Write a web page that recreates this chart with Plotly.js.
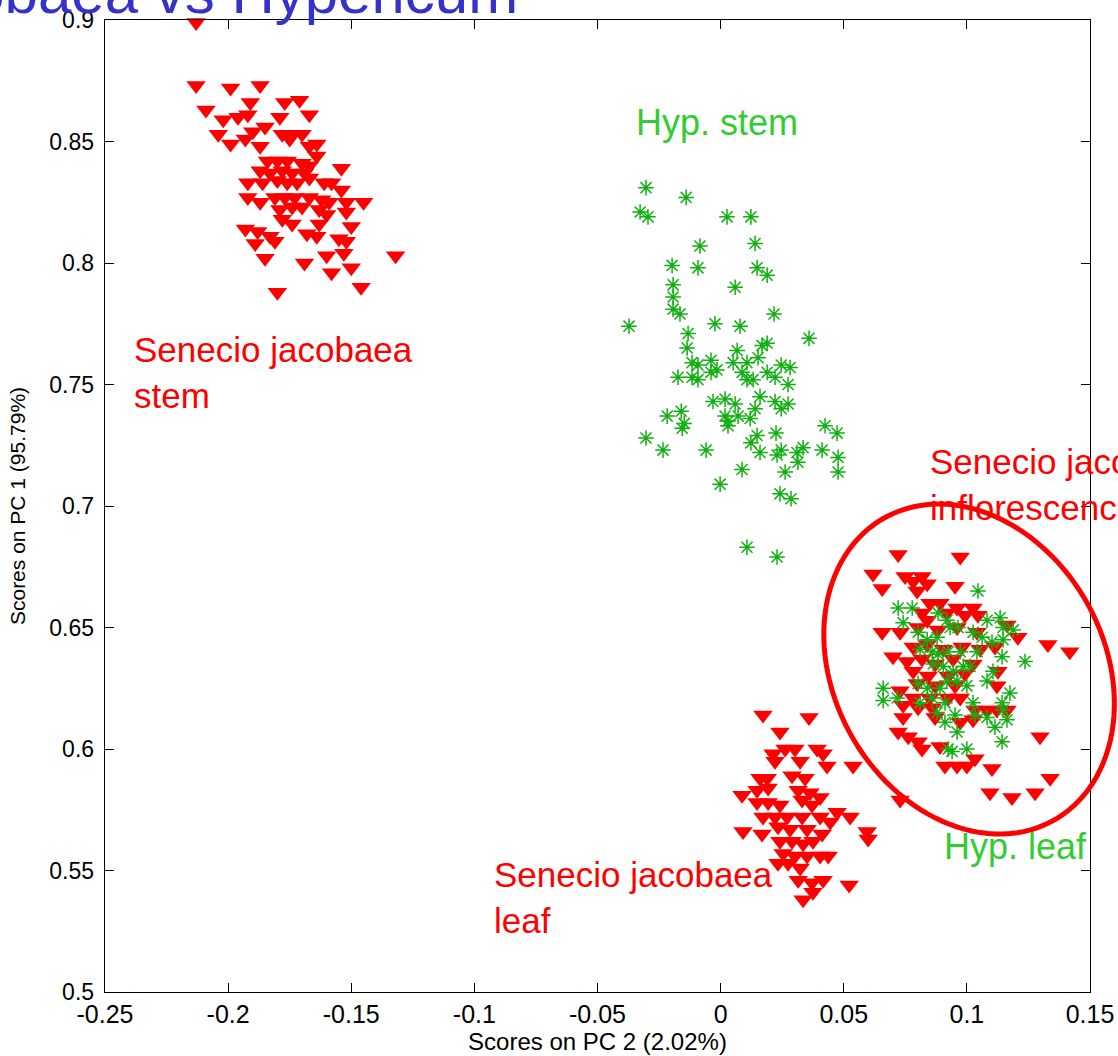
<!DOCTYPE html>
<html><head><meta charset="utf-8">
<script src="https://cdn.plot.ly/plotly-3.0.1.min.js"></script>
<style>html,body{margin:0;padding:0;background:#fff}#chart{width:1118px;height:1056px}</style>
</head><body><div id="chart"></div>
<script>
const xTickVals = [-0.25,-0.2,-0.15,-0.1,-0.05,0,0.05,0.1,0.15];
const xTickText = ["-0.25","-0.2","-0.15","-0.1","-0.05","0","0.05","0.1","0.15"];
const yTickVals = [0.5,0.55,0.6,0.65,0.7,0.75,0.8,0.85,0.9];
const yTickText = ["0.5","0.55","0.6","0.65","0.7","0.75","0.8","0.85","0.9"];

// Senecio jacobaea stem
const stemX = [-0.213,-0.213,-0.199,-0.187,-0.209,-0.191,-0.177,-0.171,-0.167,-0.179,-0.202,-0.196,-0.192,-0.204,-0.199,-0.193,-0.190,-0.185,-0.178,-0.174,-0.170,-0.175,-0.187,-0.164,-0.167,-0.164,-0.184,-0.180,-0.176,-0.170,-0.167,-0.187,-0.183,-0.178,-0.174,-0.169,-0.154,-0.192,-0.186,-0.180,-0.176,-0.172,-0.167,-0.161,-0.158,-0.154,-0.192,-0.187,-0.181,-0.177,-0.173,-0.167,-0.162,-0.159,-0.152,-0.145,-0.179,-0.174,-0.170,-0.163,-0.160,-0.152,-0.178,-0.174,-0.163,-0.150,-0.193,-0.188,-0.183,-0.181,-0.189,-0.168,-0.164,-0.155,-0.152,-0.185,-0.169,-0.160,-0.153,-0.132,-0.158,-0.150,-0.146,-0.180];
const stemY = [0.899,0.873,0.872,0.873,0.863,0.866,0.866,0.867,0.861,0.860,0.859,0.860,0.861,0.853,0.849,0.851,0.854,0.856,0.853,0.853,0.853,0.851,0.848,0.849,0.848,0.844,0.842,0.842,0.842,0.841,0.840,0.838,0.837,0.838,0.837,0.837,0.839,0.833,0.833,0.834,0.833,0.833,0.835,0.833,0.833,0.830,0.827,0.825,0.827,0.827,0.827,0.827,0.826,0.825,0.825,0.825,0.822,0.823,0.823,0.822,0.820,0.821,0.818,0.816,0.816,0.815,0.814,0.813,0.811,0.809,0.808,0.812,0.811,0.810,0.809,0.802,0.800,0.803,0.804,0.803,0.796,0.798,0.790,0.788];

// Senecio jacobaea leaf
const leafX = [0.0172,0.0359,0.0241,0.0213,0.0262,0.0302,0.0392,0.0416,0.0221,0.0323,0.0432,0.0538,0.0160,0.0189,0.0290,0.0343,0.0087,0.0148,0.0193,0.0315,0.0363,0.0404,0.0148,0.0193,0.0241,0.0331,0.0371,0.0473,0.0526,0.0172,0.0221,0.0270,0.0331,0.0404,0.0445,0.0091,0.0168,0.0233,0.0282,0.0351,0.0412,0.0595,0.0599,0.0241,0.0290,0.0335,0.0375,0.0254,0.0302,0.0351,0.0404,0.0437,0.0233,0.0274,0.0323,0.0315,0.0371,0.0416,0.0522,0.0335,0.0375];
const leafY = [0.614,0.613,0.607,0.598,0.600,0.600,0.600,0.598,0.595,0.595,0.593,0.593,0.588,0.588,0.589,0.588,0.581,0.583,0.584,0.583,0.582,0.580,0.578,0.578,0.577,0.579,0.577,0.574,0.572,0.572,0.572,0.572,0.572,0.572,0.570,0.566,0.565,0.568,0.567,0.567,0.565,0.566,0.563,0.562,0.562,0.561,0.562,0.557,0.556,0.556,0.556,0.556,0.553,0.553,0.551,0.546,0.545,0.546,0.544,0.538,0.541];

// Senecio jacobaea inflorescence
const inflX = [0.0721,0.0973,0.0619,0.0656,0.0749,0.0782,0.0818,0.0839,0.0798,0.0952,0.0850,0.0891,0.0960,0.1025,0.0818,0.0919,0.0992,0.1045,0.0839,0.0656,0.0729,0.0802,0.0883,0.0960,0.1041,0.1163,0.1207,0.1329,0.1418,0.0782,0.0839,0.0904,0.0981,0.1054,0.1114,0.0700,0.0757,0.0818,0.0871,0.0944,0.1025,0.0782,0.0843,0.0924,0.0992,0.1126,0.0798,0.0871,0.0952,0.1122,0.0729,0.0782,0.0850,0.0924,0.0973,0.0741,0.0802,0.0859,0.1033,0.1082,0.1122,0.1163,0.0741,0.0871,0.0973,0.1025,0.0721,0.0762,0.0802,0.0818,0.0891,0.1297,0.0911,0.0960,0.1000,0.1033,0.1102,0.1338,0.1094,0.1183,0.1277,0.0729];
const inflY = [0.680,0.679,0.672,0.666,0.671,0.669,0.671,0.668,0.665,0.667,0.660,0.660,0.658,0.658,0.656,0.656,0.655,0.655,0.653,0.648,0.648,0.650,0.649,0.650,0.648,0.651,0.646,0.643,0.640,0.642,0.643,0.641,0.642,0.641,0.642,0.638,0.636,0.637,0.635,0.637,0.635,0.632,0.630,0.630,0.631,0.632,0.627,0.626,0.626,0.626,0.624,0.621,0.621,0.621,0.621,0.618,0.617,0.617,0.616,0.616,0.616,0.616,0.613,0.613,0.611,0.612,0.607,0.605,0.603,0.600,0.601,0.605,0.593,0.593,0.593,0.596,0.592,0.588,0.582,0.580,0.582,0.579];

// Hypericum stem
const hypStemX = [-0.0303,-0.0140,-0.0327,-0.0295,0.0026,0.0123,-0.0084,0.0140,-0.0197,-0.0092,0.0148,0.0189,-0.0193,0.0059,-0.0193,-0.0193,-0.0165,-0.0372,-0.0023,0.0079,0.0217,0.0359,-0.0132,-0.0136,0.0067,0.0168,0.0189,0.0152,-0.0116,-0.0092,-0.0039,0.0051,0.0107,0.0246,0.0282,-0.0173,-0.0116,-0.0092,-0.0039,-0.0015,0.0087,0.0107,0.0132,0.0189,0.0221,0.0274,-0.0031,0.0018,0.0059,0.0160,0.0221,0.0274,0.0246,0.0140,-0.0217,-0.0160,-0.0148,-0.0156,0.0018,0.0030,0.0071,0.0120,0.0030,-0.0303,-0.0234,-0.0059,0.0225,0.0148,0.0123,0.0160,0.0246,0.0229,0.0310,0.0335,0.0314,0.0412,0.0424,0.0473,0.0477,0.0477,0.0262,0.0087,-0.0002,0.0241,0.0286,0.0107,0.0229];
const hypStemY = [0.831,0.827,0.821,0.819,0.819,0.819,0.807,0.808,0.799,0.798,0.798,0.795,0.791,0.790,0.786,0.781,0.779,0.774,0.775,0.774,0.779,0.769,0.771,0.765,0.764,0.766,0.767,0.761,0.759,0.758,0.760,0.759,0.759,0.758,0.757,0.753,0.753,0.752,0.755,0.756,0.755,0.752,0.752,0.755,0.753,0.750,0.743,0.744,0.742,0.745,0.743,0.742,0.740,0.740,0.737,0.739,0.734,0.732,0.737,0.735,0.737,0.736,0.733,0.728,0.723,0.723,0.730,0.729,0.726,0.722,0.723,0.721,0.722,0.724,0.718,0.723,0.733,0.730,0.720,0.714,0.714,0.715,0.709,0.705,0.703,0.683,0.679];

// Hypericum leaf
const hypLeafX = [0.1045,0.0721,0.0778,0.0741,0.0883,0.0919,0.1082,0.1135,0.1147,0.1188,0.0802,0.0839,0.0879,0.0932,0.0964,0.1025,0.1062,0.1102,0.1147,0.0810,0.0859,0.0883,0.0924,0.0973,0.1041,0.1143,0.1236,0.0863,0.0904,0.0944,0.0985,0.1013,0.1082,0.1106,0.0660,0.0660,0.0717,0.0802,0.0839,0.0891,0.0919,0.0960,0.1000,0.1175,0.0810,0.0859,0.0911,0.0879,0.0952,0.1025,0.1033,0.1082,0.1143,0.1147,0.1163,0.1114,0.0911,0.0960,0.1143,0.0924,0.1000,0.0940];
const hypLeafY = [0.665,0.658,0.658,0.652,0.656,0.653,0.653,0.654,0.650,0.649,0.648,0.645,0.646,0.650,0.650,0.648,0.646,0.644,0.645,0.641,0.640,0.639,0.640,0.640,0.640,0.638,0.636,0.635,0.634,0.632,0.634,0.634,0.628,0.632,0.625,0.620,0.621,0.627,0.625,0.625,0.628,0.628,0.626,0.623,0.619,0.621,0.619,0.615,0.614,0.619,0.614,0.613,0.619,0.616,0.612,0.609,0.611,0.607,0.603,0.600,0.600,0.599];

const xRange = [-0.25, 0.15];
const yRange = [0.5, 0.9];

// highlight ellipse (data units)
const ellipseCenter = [0.1009, 0.6329];
const ellipseAxes = [0.0711, 0.0551];
const ellipseAngleDeg = -62;

const RED = '#ff0000';
const GREEN = '#10b010';
const GREEN_TEXT = '#33cc33';
const FONT = 'Liberation Sans, Arial, sans-serif';
const XFONT = 'Liberation Sans Narrow, Arial Narrow, Liberation Sans, Arial, sans-serif';

function triTrace(x, y, name) {
  return {x: x, y: y, type: 'scatter', mode: 'markers', name: name, cliponaxis: false,
    marker: {symbol: 'triangle-down', size: 17, color: RED, line: {width: 0}}};
}
function starTrace(x, y, name) {
  return {x: x, y: y, type: 'scatter', mode: 'markers', name: name, cliponaxis: false,
    marker: {symbol: 'asterisk-open', size: 13, color: GREEN, line: {color: GREEN, width: 1.5}}};
}

const traces = [
  triTrace(stemX, stemY, 'Senecio jacobaea stem'),
  triTrace(leafX, leafY, 'Senecio jacobaea leaf'),
  triTrace(inflX, inflY, 'Senecio jacobaea inflorescence'),
  starTrace(hypStemX, hypStemY, 'Hyp. stem'),
  starTrace(hypLeafX, hypLeafY, 'Hyp. leaf')
];

// ellipse path in paper coords (so it is not clipped at the plot edge)
const phi = ellipseAngleDeg * Math.PI / 180;
let pathStr = '';
for (let i = 0; i <= 120; i++) {
  const t = 2 * Math.PI * i / 120;
  const ex = ellipseCenter[0] + ellipseAxes[0] * Math.cos(phi) * Math.cos(t) - ellipseAxes[1] * Math.sin(phi) * Math.sin(t);
  const ey = ellipseCenter[1] + ellipseAxes[0] * Math.sin(phi) * Math.cos(t) + ellipseAxes[1] * Math.cos(phi) * Math.sin(t);
  const px = (ex - xRange[0]) / (xRange[1] - xRange[0]);
  const py = (ey - yRange[0]) / (yRange[1] - yRange[0]);
  pathStr += (i === 0 ? 'M' : 'L') + px.toFixed(5) + ',' + py.toFixed(5);
}
pathStr += 'Z';

function label(text, x, y, color, size) {
  return {text: text, x: x, y: y, xref: 'x', yref: 'y', xanchor: 'left', yanchor: 'middle',
    align: 'left', showarrow: false, font: {family: FONT, size: size, color: color}};
}

const layout = {
  width: 1118, height: 1056,
  margin: {l: 105, r: 28, t: 20, b: 64},
  paper_bgcolor: '#fff', plot_bgcolor: '#fff',
  showlegend: false,
  xaxis: {
    range: xRange, tickvals: xTickVals, ticktext: xTickText,
    ticks: 'inside', ticklen: 9, tickwidth: 1, tickcolor: '#000',
    showline: true, mirror: 'ticks', linecolor: '#000', linewidth: 1.3,
    showgrid: false, zeroline: false, automargin: false,
    tickfont: {family: XFONT, size: 25, color: '#000'},
    title: {text: 'Scores on PC 2 (2.02%)', font: {family: XFONT, size: 24, color: '#000'}, standoff: 4}
  },
  yaxis: {
    range: yRange, tickvals: yTickVals, ticktext: yTickText,
    ticks: 'inside', ticklen: 9, tickwidth: 1, tickcolor: '#000',
    showline: true, mirror: 'ticks', linecolor: '#000', linewidth: 1.3,
    showgrid: false, zeroline: false, automargin: false,
    ticklabelstandoff: 5,
    tickfont: {family: FONT, size: 23, color: '#000'},
    title: {text: 'Scores on PC 1 (95.79%)', font: {family: FONT, size: 21, color: '#000'}, standoff: 18}
  },
  shapes: [{type: 'path', xref: 'paper', yref: 'paper', path: pathStr,
    line: {color: RED, width: 5}, fillcolor: 'rgba(0,0,0,0)'}],
  annotations: [
    {text: 'Senecio jacobaea vs Hypericum', xref: 'paper', yref: 'paper', x: 0.4213, y: 1.028,
      xanchor: 'right', yanchor: 'middle', showarrow: false,
      font: {family: FONT, size: 60, color: '#3333cc'}},
    label('Hyp. stem', -0.035, 0.858, GREEN_TEXT, 36),
    label('Senecio jacobaea<br>stem', -0.239, 0.755, RED, 35),
    label('Senecio jacobaea<br>inflorescence', 0.0843, 0.709, RED, 35),
    label('Hyp. leaf', 0.0898, 0.560, GREEN_TEXT, 36),
    label('Senecio jacobaea<br>leaf', -0.0929, 0.539, RED, 35)
  ]
};

Plotly.newPlot('chart', traces, layout, {displayModeBar: false, staticPlot: true});
</script>
</body></html>
